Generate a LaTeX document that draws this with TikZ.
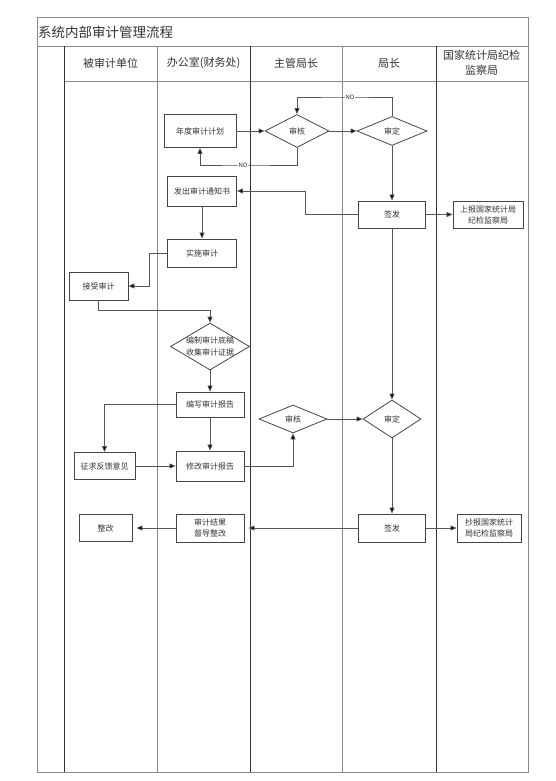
\documentclass[tikz,border=0pt]{standalone}
\usepackage{fontspec}
\newfontfamily\cjk{Noto Sans CJK SC}
\usetikzlibrary{shapes.geometric,arrows.meta}
\definecolor{txt}{HTML}{333333}
\definecolor{edge}{HTML}{444444}
\definecolor{conn}{HTML}{555555}
\definecolor{laneA}{HTML}{333333}
\definecolor{laneB}{HTML}{8A8A8A}
\begin{document}
\begin{tikzpicture}[x=1pt,y=-1pt,
  box/.style={draw=edge,line width=0.9pt,rectangle,inner sep=0pt,align=center,
    font=\cjk\fontsize{8}{11}\selectfont,text=txt},
  dia/.style={draw=edge,line width=0.8pt,diamond,inner sep=0pt},
  lab/.style={font=\cjk\fontsize{8}{11}\selectfont,text=txt,align=center,inner sep=0pt},
  hdr/.style={font=\cjk\fontsize{11}{13}\selectfont,text=txt,align=center,inner sep=0pt},
  arr/.style={draw=conn,line width=0.8pt,-{Triangle[length=6pt,width=5pt,fill=black]}},
  nolab/.style={font=\cjk\fontsize{6}{7}\selectfont,text=txt,fill=white,inner sep=0.5pt},
  laneline/.style={line width=0.9pt}]
\useasboundingbox (0,0) rectangle (555,781);
% frame and lanes
\draw[laneB,line width=1pt] (37,18) rectangle (528,772);
\draw[laneB,line width=0.9pt] (37,46) -- (528,46);
\draw[laneB,line width=0.9pt] (64,81) -- (528,81);
\draw[laneline,laneA] (64,46) -- (64,772);
\draw[laneline,laneB] (157,46) -- (157,772);
\draw[laneline,laneA] (250,46) -- (250,772);
\draw[laneline,laneB] (342,46) -- (342,772);
\draw[laneline,laneA] (436,46) -- (436,772);
% title and headers
\node[anchor=west,font=\cjk\fontsize{13.5}{15}\selectfont,text=txt,inner sep=0pt] (title) at (38,32) {系统内部审计管理流程};
\node[hdr] (h1) at (110.5,63) {被审计单位};
\node[hdr] (h2) at (203.5,63) {办公室(财务处)};
\node[hdr] (h3) at (296,63) {主管局长};
\node[hdr] (h4) at (389,63) {局长};
\node[hdr,font=\cjk\fontsize{11}{15}\selectfont] (h5) at (481.5,62.5) {国家统计局纪检\\监察局};
% nodes
\node[box,minimum width=72pt,minimum height=33pt] (plan) at (200,131) {年度审计计划};
\node[dia,minimum width=64pt,minimum height=33pt,label={[lab]center:审核}] (sh1) at (297,131) {};
\node[dia,minimum width=70pt,minimum height=29pt,label={[lab]center:审定}] (sd1) at (392,131) {};
\node[box,minimum width=69pt,minimum height=30pt] (notice) at (202,191) {发出审计通知书};
\node[box,minimum width=67pt,minimum height=27pt] (qf1) at (392,214.5) {签发};
\node[box,minimum width=70pt,minimum height=27pt] (rep) at (488,214.5) {上报国家统计局\\纪检监察局};
\node[box,minimum width=69pt,minimum height=28pt] (impl) at (202,253) {实施审计};
\node[box,minimum width=59pt,minimum height=28pt] (accept) at (98.5,286) {接受审计};
\node[dia,minimum width=79pt,minimum height=47pt,label={[lab,font=\cjk\fontsize{8}{12}\selectfont]center:编制审计底稿\\收集审计证据}] (draft) at (210,346.5) {};
\node[box,minimum width=68pt,minimum height=25pt] (write) at (210,404.5) {编写审计报告};
\node[box,minimum width=61pt,minimum height=27pt] (solicit) at (104.5,466) {征求反馈意见};
\node[box,minimum width=68pt,minimum height=30pt] (revise) at (210,466) {修改审计报告};
\node[dia,minimum width=68pt,minimum height=28pt,label={[lab]center:审核}] (sh2) at (293,419) {};
\node[dia,minimum width=58pt,minimum height=38pt,label={[lab]center:审定}] (sd2) at (392,419) {};
\node[box,minimum width=67pt,minimum height=28pt] (qf2) at (392,528) {签发};
\node[box,minimum width=68pt,minimum height=28pt] (result) at (210,528) {审计结果\\督导整改};
\node[box,minimum width=53pt,minimum height=27pt] (fix) at (105.5,528) {整改};
\node[box,minimum width=64pt,minimum height=28pt] (copy) at (489,528) {抄报国家统计\\局纪检监察局};
% helper coordinates
\coordinate (no1) at (345,97);
\coordinate (no2) at (243,165);
\coordinate (c1) at (305,191);
\coordinate (c2) at (149,286);
\coordinate (c3) at (210,310);
% connectors
\draw[arr] (plan.east) -- (sh1.west);
\draw[arr] (sh1.east) -- (sd1.west);
\draw[arr] (sd1.north) |- (no1) -| (sh1.north);
\draw[arr] (sh1.south) |- (no2) -| (plan.south);
\node[nolab] (nol1) at (350,97) {NO};
\node[nolab] (nol2) at (243,165) {NO};
\draw[arr] (sd1.south) -- (qf1.north);
\draw[arr] (qf1.west) -| (c1) -- (notice.east);
\draw[arr] (qf1.east) -- (rep.west);
\draw[arr] (notice.south) -- (impl.north);
\draw[arr] (impl.west) -| (c2) -- (accept.east);
\draw[arr] (accept.south) |- (c3) -- (draft.north);
\draw[arr] (draft.south) -- (write.north);
\draw[arr] (write.west) -| (solicit.north);
\draw[arr] (write.south) -- (revise.north);
\draw[arr] (solicit.east) -- (revise.west);
\draw[arr] (revise.east) -| (sh2.south);
\draw[arr] (sh2.east) -- (sd2.west);
\draw[arr] (qf1.south) -- (sd2.north);
\draw[arr] (sd2.south) -- (qf2.north);
\draw[arr,shorten >=4pt] (qf2.west) -- (result.east);
\draw[arr,shorten >=4pt] (result.west) -- (fix.east);
\draw[arr] (qf2.east) -- (copy.west);
\end{tikzpicture}
\end{document}
